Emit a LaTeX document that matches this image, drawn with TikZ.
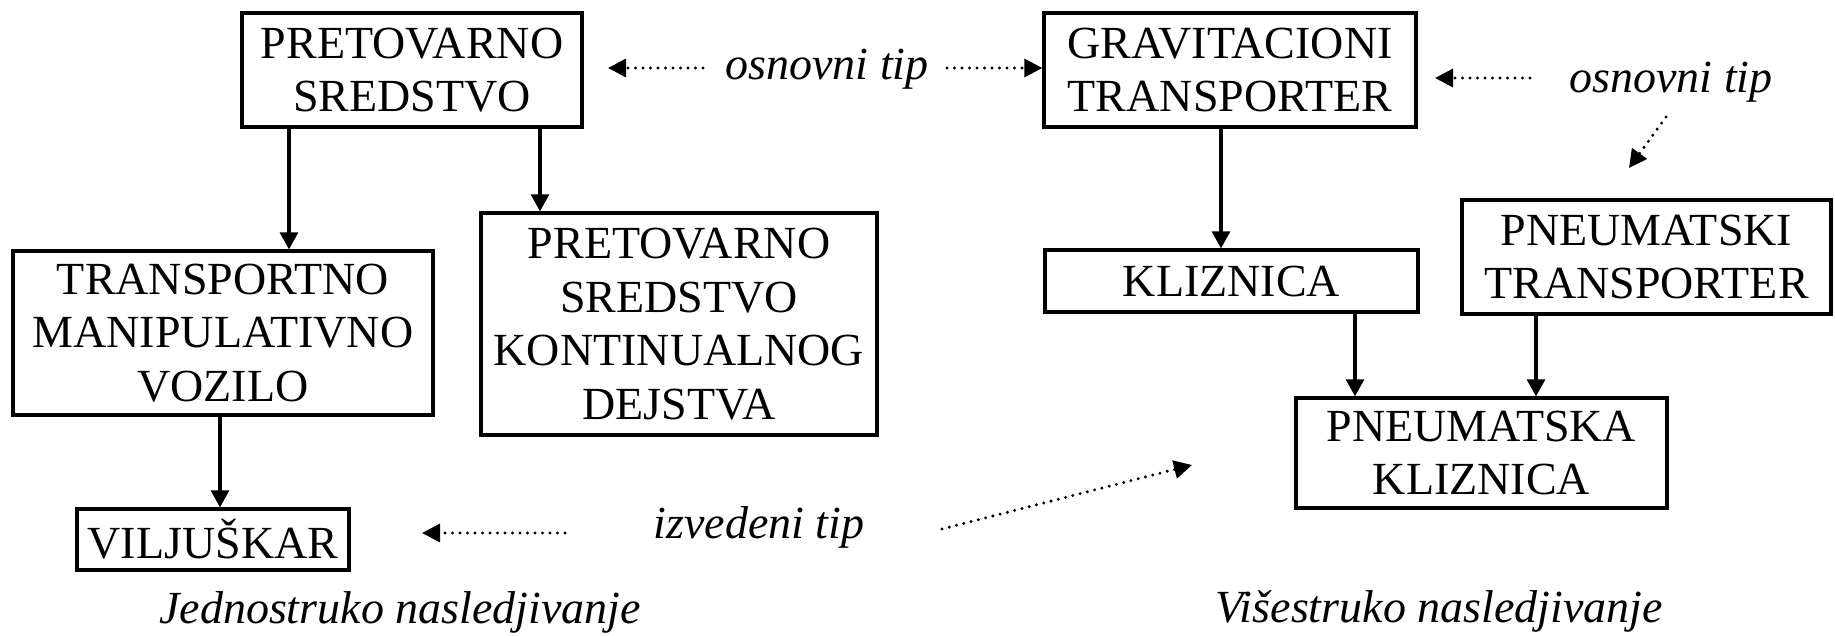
\documentclass[tikz,border=0pt]{standalone}
\usepackage{fontspec}
\setmainfont{Liberation Serif}
\usetikzlibrary{arrows.meta}
\tikzset{
  box/.style={draw, line width=3.3pt, inner sep=0pt, align=center,
    font=\fontsize{46}{53.5}\selectfont},
  arr/.style={line width=3.1pt, -{Triangle[width=18pt,length=17pt]}},
  dotarr/.style={line width=3.3pt, dash pattern=on 0pt off 7.5pt, line cap=round,
    -{Triangle[width=18pt,length=18pt]}},
  lbl/.style={font=\fontsize{46}{53.5}\selectfont\itshape, inner sep=0pt, anchor=base},
}
\begin{document}
\begin{tikzpicture}[x=1pt, y=-1pt]
  \useasboundingbox (0,0) rectangle (1835,636);

  % single inheritance
  \node[box, minimum width=340pt, minimum height=114pt] (ps) at (412,70) {PRETOVARNO\\SREDSTVO};
  \node[box, minimum width=420pt, minimum height=164pt] (tmv) at (223,333) {TRANSPORTNO\\MANIPULATIVNO\\VOZILO};
  \node[box, minimum width=396pt, minimum height=222pt] (pskd) at (679,324) {PRETOVARNO\\SREDSTVO\\KONTINUALNOG\\DEJSTVA};
  \node[box, minimum width=272pt, minimum height=61pt] (vil) at (213,539.5) {VILJUŠKAR};

  % multiple inheritance
  \node[box, minimum width=372pt, minimum height=114pt] (gt) at (1230,70) {GRAVITACIONI\\TRANSPORTER};
  \node[box, minimum width=373pt, minimum height=62pt] (kl) at (1231.5,281) {KLIZNICA};
  \node[box, minimum width=369pt, minimum height=114pt] (pt) at (1646.5,257) {PNEUMATSKI\\TRANSPORTER};
  \node[box, minimum width=371pt, minimum height=110pt] (pk) at (1481.5,453) {PNEUMATSKA\\KLIZNICA};

  % labels
  \node[lbl] (osn1) at (827,80) {osnovni tip};
  \node[lbl] (osn2) at (1671,93) {osnovni tip};
  \node[lbl] (izv) at (759,538) {izvedeni tip};
  \node[lbl] (jed) at (400,623) {Jednostruko nasledjivanje};
  \node[lbl] (vis) at (1439,622) {Višestruko nasledjivanje};

  % inheritance arrows
  \draw[arr] ([xshift=-123pt]ps.south) -- ([xshift=-123pt]ps.south |- tmv.north);
  \draw[arr] ([xshift=128pt]ps.south) -- ([xshift=128pt]ps.south |- pskd.north);
  \draw[arr] ([xshift=-3pt]tmv.south) -- ([xshift=-3pt]tmv.south |- vil.north);
  \draw[arr] ([xshift=-9pt]gt.south) -- ([xshift=-9pt]gt.south |- kl.north);
  \draw[arr] ([xshift=123.5pt]kl.south) -- ([xshift=123.5pt]kl.south |- pk.north);
  \draw[arr] ([xshift=-110.5pt]pt.south) -- ([xshift=-110.5pt]pt.south |- pk.north);

  % dotted pointers
  \coordinate (o1a) at (703,68);
  \coordinate (o1b) at (608,68);
  \coordinate (o1c) at (947,68);
  \coordinate (o2a) at (1530,78);
  \coordinate (o2b) at (1435,78);
  \coordinate (o2c) at (1666,117);
  \coordinate (o2d) at (1629,168);
  \coordinate (i1a) at (565,533);
  \coordinate (i1b) at (422,533);
  \coordinate (i2a) at (942,529);
  \coordinate (i2b) at (1192,465);

  \draw[dotarr] (o1a) -- (o1b);
  \draw[dotarr] (o1c) -- (gt.west |- o1c);
  \draw[dotarr] (o2a) -- (o2b);
  \draw[dotarr] (o2c) -- (o2d);
  \draw[dotarr] (i1a) -- (i1b);
  \draw[dotarr] (i2a) -- (i2b);
\end{tikzpicture}
\end{document}
